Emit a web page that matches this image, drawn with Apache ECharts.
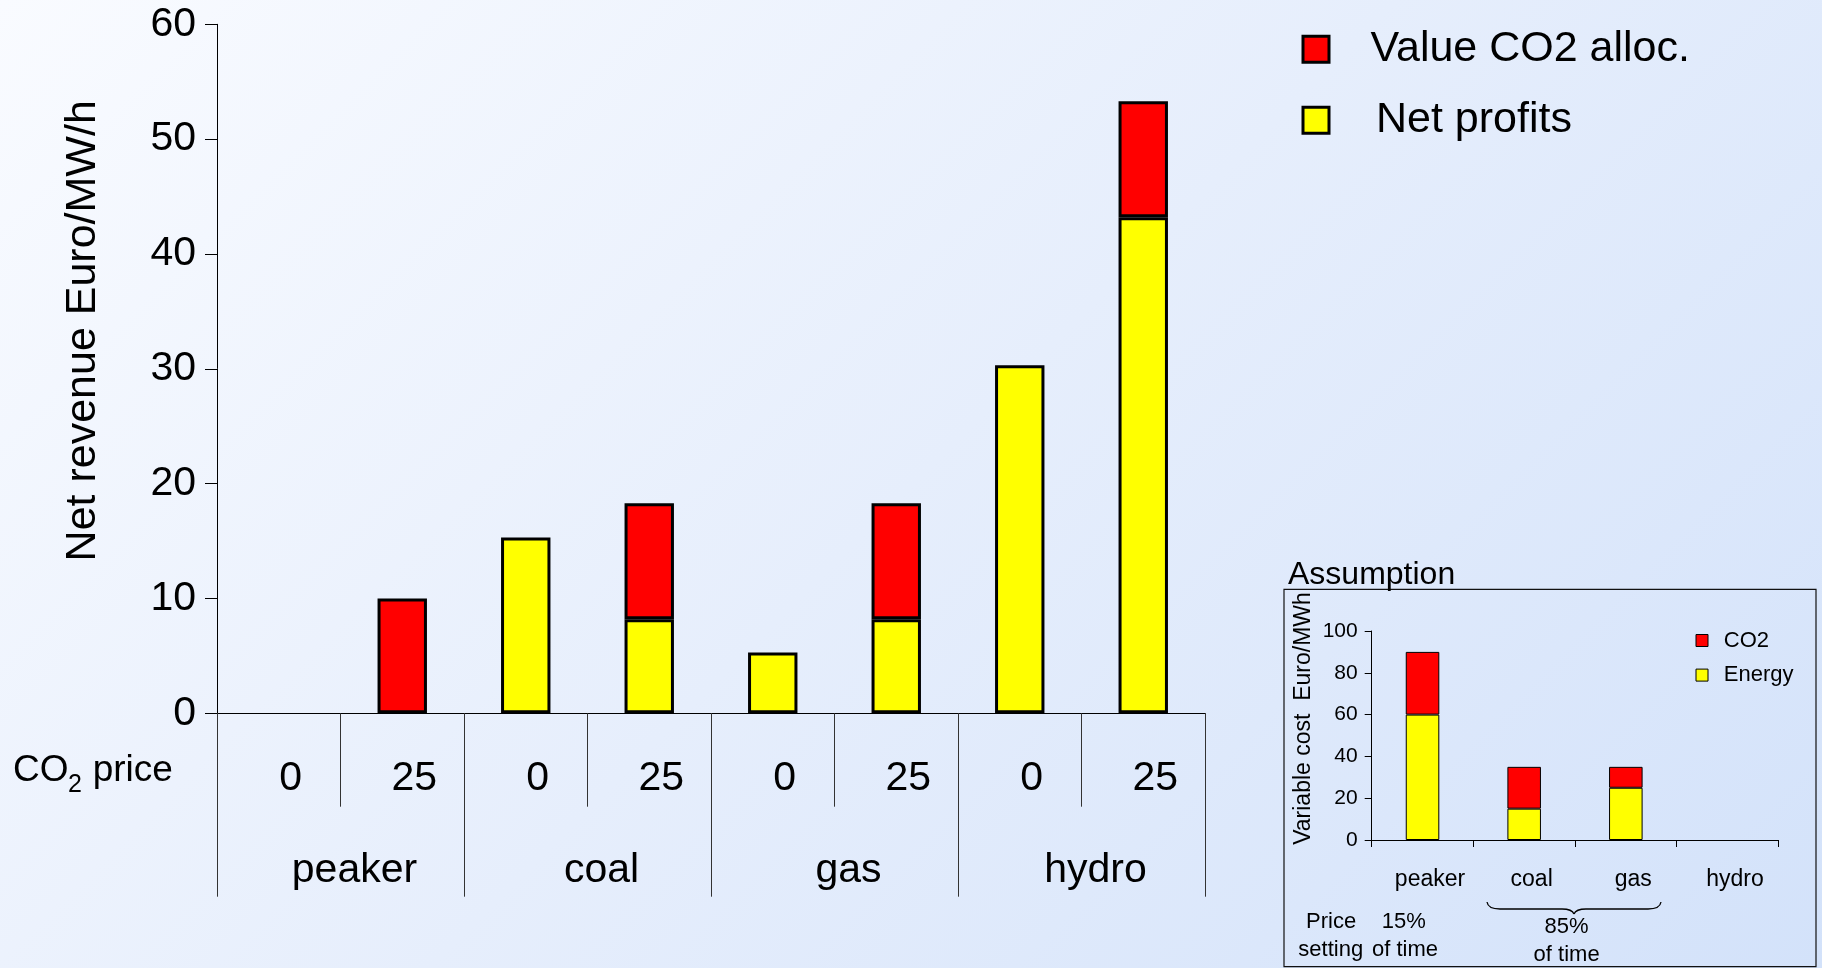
<!DOCTYPE html>
<html>
<head>
<meta charset="utf-8">
<title>Net revenue by plant type and CO2 price</title>
<script src="https://cdn.jsdelivr.net/npm/echarts@6/dist/echarts.min.js"></script>
<style>
  html, body { margin: 0; padding: 0; }
  #chart { width: 1822px; height: 968px; }
</style>
</head>
<body>
<div id="chart"></div>
<script>
// ---- data ----
const plantTypes = ['peaker', 'coal', 'gas', 'hydro'];
const co2Prices = ['0', '25'];
// one bar per plant type and CO2 price, in the order peaker 0, peaker 25, coal 0, ...
const netProfits = [0, 0, 15.3, 8.2, 5.3, 8.2, 30.3, 43.2];
const co2AllocValue = [0, 10, 0, 10.1, 0, 10.1, 0, 10.1];
const revenueTicks = { min: 0, max: 60, step: 10 };

// inset: variable cost per plant type
const energyCost = [60, 15, 25, 0];
const co2Cost = [30, 20, 10, 0];
const costTicks = { min: 0, max: 100, step: 20 };

// ---- helpers ----
const FONT = "'Liberation Sans', Arial, Helvetica, sans-serif";
const categories = plantTypes.flatMap(p => co2Prices.map(c => p + '|' + c));
const noZero = arr => arr.map(v => (v === 0 ? '-' : v));
const font = size => size + 'px ' + FONT;

// text placed by its alphabetic baseline (middle line sits 0.3465em above it)
function label(text, x, baseline, size, align) {
  return {
    type: 'text',
    silent: true,
    style: {
      text: text,
      x: x,
      y: baseline - 0.3465 * size,
      font: font(size),
      fill: '#000',
      align: align || 'left',
      textAlign: align || 'left',
      verticalAlign: 'middle',
      textVerticalAlign: 'middle'
    }
  };
}

const braceStyle = { fill: 'none', stroke: '#000', lineWidth: 1.3 };
function curve(x1, y1, cx, cy, x2, y2) {
  return { type: 'bezierCurve', silent: true, shape: { x1, y1, cpx1: cx, cpy1: cy, x2, y2 }, style: braceStyle };
}
function segment(x1, y1, x2, y2) {
  return { type: 'line', silent: true, shape: { x1, y1, x2, y2 }, style: braceStyle };
}

const chart = echarts.init(document.getElementById('chart'), null, { renderer: 'canvas' });

const blackLine = { lineStyle: { color: '#000', width: 1 } };

const option = {
  animation: false,
  backgroundColor: new echarts.graphic.LinearGradient(0, 0, 1395, 1395, [
    { offset: 0, color: '#f9fbff' },
    { offset: 0.5, color: '#e6eefc' },
    { offset: 1, color: '#d3e2fa' }
  ], true),
  textStyle: { fontFamily: FONT, color: '#000' },
  grid: [
    { left: 217, top: 24.3, width: 988, height: 689, containLabel: false },
    { left: 1371.7, top: 631, width: 406.6, height: 209, containLabel: false }
  ],
  legend: [
    {
      data: [
        { name: 'Value CO2 alloc.', textStyle: { padding: [0, 0, 10, 36.5] } },
        { name: 'Net profits', textStyle: { padding: [0, 0, 10, 42] } }
      ],
      orient: 'vertical',
      left: 1301.5,
      top: 23.3,
      padding: 0,
      itemWidth: 26,
      itemHeight: 26,
      itemGap: 18.9,
      icon: 'rect',
      selectedMode: false,
      itemStyle: { borderColor: '#000', borderWidth: 3 },
      textStyle: { fontFamily: FONT, fontSize: 43, lineHeight: 42, color: '#000', padding: [0, 0, 10, 40] }
    },
    {
      data: ['CO2', 'Energy'],
      orient: 'vertical',
      left: 1695.5,
      top: 629.5,
      padding: 0,
      itemWidth: 12,
      itemHeight: 12,
      itemGap: 12.6,
      icon: 'rect',
      selectedMode: false,
      itemStyle: { borderColor: '#000', borderWidth: 1 },
      textStyle: { fontFamily: FONT, fontSize: 22, lineHeight: 22, color: '#000', padding: [0, 0, 0, 10.8] }
    }
  ],
  xAxis: [
    {
      // CO2 price row
      type: 'category',
      gridIndex: 0,
      position: 'bottom',
      offset: 0,
      data: categories,
      axisLine: blackLine,
      axisTick: { show: true, interval: 0, length: 93.4, lineStyle: { color: '#333', width: 1 } },
      axisLabel: {
        interval: 0,
        margin: 45,
        fontSize: 41,
        fontFamily: FONT,
        color: '#000',
        padding: [0, 0, 0, 24],
        formatter: v => v.split('|')[1]
      }
    },
    {
      // plant type row
      type: 'category',
      gridIndex: 0,
      position: 'bottom',
      offset: 0,
      data: plantTypes,
      axisLine: { show: false },
      axisTick: { show: true, interval: 0, length: 183.4, lineStyle: { color: '#333', width: 1 } },
      axisLabel: {
        interval: 0,
        margin: 137,
        fontSize: 41,
        fontFamily: FONT,
        color: '#000',
        padding: [0, 0, 0, 28]
      }
    },
    {
      // inset categories
      type: 'category',
      gridIndex: 1,
      position: 'bottom',
      offset: 0,
      data: plantTypes,
      axisLine: blackLine,
      axisTick: { show: true, interval: 0, length: 7, lineStyle: { color: '#000', width: 1 } },
      axisLabel: {
        interval: 0,
        margin: 28,
        fontSize: 23,
        fontFamily: FONT,
        color: '#000',
        padding: [0, 0, 0, 15]
      }
    }
  ],
  yAxis: [
    {
      type: 'value',
      gridIndex: 0,
      min: revenueTicks.min,
      max: revenueTicks.max,
      interval: revenueTicks.step,
      axisLine: { show: true, lineStyle: { color: '#000', width: 1 } },
      axisTick: { show: true, length: 12, lineStyle: { color: '#000', width: 1 } },
      splitLine: { show: false },
      axisLabel: { fontSize: 41, fontFamily: FONT, color: '#000', margin: 21 },
      name: 'Net revenue Euro/MW/h',
      nameLocation: 'middle',
      nameGap: 112,
      nameTextStyle: { fontSize: 43, fontFamily: FONT, color: '#000', padding: [0, 0, 0, 76] }
    },
    {
      type: 'value',
      gridIndex: 1,
      min: costTicks.min,
      max: costTicks.max,
      interval: costTicks.step,
      axisLine: { show: true, lineStyle: { color: '#000', width: 1 } },
      axisTick: { show: true, length: 7, lineStyle: { color: '#000', width: 1 } },
      splitLine: { show: false },
      axisLabel: { fontSize: 21, fontFamily: FONT, color: '#000', margin: 14 },
      name: 'Variable cost  Euro/MWh',
      nameLocation: 'middle',
      nameGap: 56.5,
      nameTextStyle: { fontSize: 23, fontFamily: FONT, color: '#000', padding: [0, 0, 0, 34] }
    }
  ],
  series: [
    {
      name: 'Net profits',
      type: 'bar',
      stack: 'revenue',
      xAxisIndex: 0,
      yAxisIndex: 0,
      barWidth: '40%',
      itemStyle: { color: '#ffff00', borderColor: '#000', borderWidth: 3 },
      data: noZero(netProfits)
    },
    {
      name: 'Value CO2 alloc.',
      type: 'bar',
      stack: 'revenue',
      xAxisIndex: 0,
      yAxisIndex: 0,
      barWidth: '40%',
      itemStyle: { color: '#ff0000', borderColor: '#000', borderWidth: 3 },
      data: noZero(co2AllocValue)
    },
    {
      name: 'Energy',
      type: 'bar',
      stack: 'cost',
      xAxisIndex: 2,
      yAxisIndex: 1,
      barWidth: '33%',
      itemStyle: { color: '#ffff00', borderColor: '#000', borderWidth: 1 },
      data: noZero(energyCost)
    },
    {
      name: 'CO2',
      type: 'bar',
      stack: 'cost',
      xAxisIndex: 2,
      yAxisIndex: 1,
      barWidth: '33%',
      itemStyle: { color: '#ff0000', borderColor: '#000', borderWidth: 1 },
      data: noZero(co2Cost)
    }
  ],
  graphic: [
    // "CO2 price" row title with subscript
    label('CO', 13, 784, 37),
    label('2', 68, 794, 25),
    label('price', 92.7, 784, 37),
    // inset frame and annotations
    {
      type: 'rect',
      silent: true,
      shape: { x: 1284, y: 589.3, width: 532, height: 377.4 },
      style: { fill: 'none', stroke: '#111', lineWidth: 1.2 }
    },
    label('Assumption', 1288, 586, 32),
    label('Price', 1306, 930, 22),
    label('15%', 1381.7, 930, 22),
    label('setting', 1298.3, 958, 22),
    label('of time', 1372, 958, 22),
    label('85%', 1566.6, 935, 22, 'center'),
    label('of time', 1566.6, 963, 22, 'center'),
    // curly brace grouping coal and gas
    curve(1487, 902, 1488, 909, 1500, 909),
    segment(1500, 909, 1562, 909),
    curve(1562, 909, 1572, 909, 1574, 914),
    curve(1574, 914, 1576, 909, 1586, 909),
    segment(1586, 909, 1648, 909),
    curve(1648, 909, 1660, 909, 1661, 902)
  ]
};

chart.setOption(option);
</script>
</body>
</html>
